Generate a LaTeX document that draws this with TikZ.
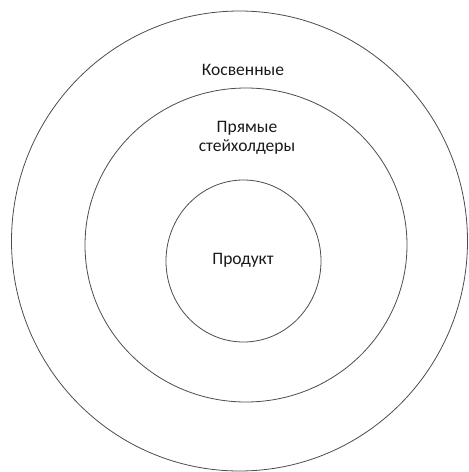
\documentclass[tikz,border=0pt]{standalone}
\usepackage{fontspec}
\setmainfont{Carlito}
\begin{document}
\begin{tikzpicture}[x=1pt,y=-1pt,
  ring/.style={draw=black!70, line width=0.8pt},
  lbl/.style={font=\fontsize{17.5}{19.5}\selectfont, text=black!90, align=center, inner sep=0pt}]
\useasboundingbox (0,0) rectangle (469,472);
\draw[ring] (239.5,241) ellipse [x radius=228, y radius=230];
\draw[ring] (246,245) ellipse [x radius=161, y radius=157];
\draw[ring] (243.5,261) ellipse [x radius=77.5, y radius=81];
\node[lbl] (kosv) at (243,70) {Косвенные};
\node[lbl] (pryam) at (247,138) {Прямые\\стейхолдеры};
\node[lbl] (prod) at (243,260) {Продукт};
\end{tikzpicture}
\end{document}
